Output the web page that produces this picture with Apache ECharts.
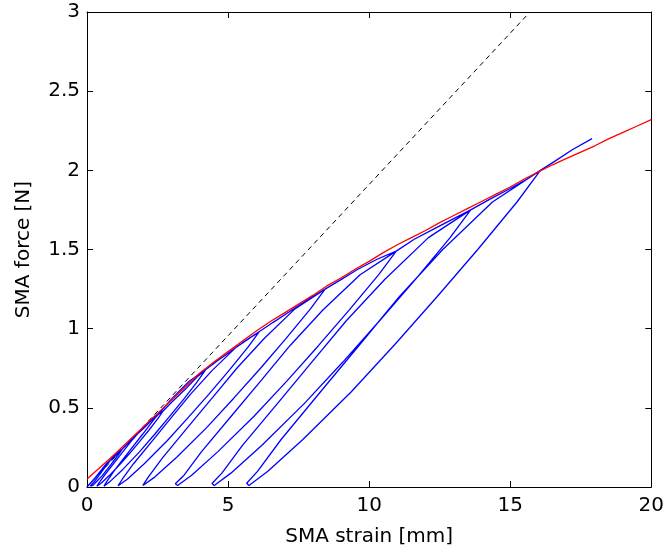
<!DOCTYPE html>
<html>
<head>
<meta charset="utf-8">
<script src="https://cdn.jsdelivr.net/npm/echarts@6/dist/echarts.min.js"></script>
<style>
  html, body { margin: 0; padding: 0; background: #fff; }
  #sma_chart { width: 667px; height: 556px; }
</style>
</head>
<body>
<div id="sma_chart"></div>
<script>
// axis ticks
var x_ticks = [0, 5, 10, 15, 20];
var y_ticks = [0, 0.5, 1, 1.5, 2, 2.5, 3];

// reference stiffness line (dashed)
var ref_line = [[0, 0], [15.7, 3]];

// envelope (red)
var envelope = [
    [0, 0.05], [0.5, 0.13], [1, 0.21], [1.5, 0.295], [2, 0.38], [2.5, 0.465],
    [3, 0.55], [3.5, 0.635], [4, 0.72], [4.5, 0.79], [5, 0.855], [5.5, 0.92],
    [6, 0.985], [6.5, 1.045], [7, 1.1], [7.5, 1.155], [8, 1.21], [8.5, 1.27],
    [9, 1.32], [9.5, 1.375], [10, 1.425], [10.5, 1.48], [11, 1.53], [11.5, 1.575],
    [12, 1.62], [12.5, 1.67], [13, 1.715], [13.5, 1.76], [14, 1.805], [14.5, 1.85],
    [15, 1.895], [15.5, 1.945], [16, 1.99], [16.5, 2.035], [17, 2.075], [17.5, 2.115],
    [18, 2.155], [18.5, 2.2], [19, 2.24], [19.5, 2.28], [20, 2.32]
];

// blue measured path: loading along envelope up to each peak
var blue_envelope = [
    [[0, 0], [0.3, 0.06], [0.7, 0.15], [1.0, 0.195], [1.25, 0.24]],
    [[1.25, 0.24], [1.6, 0.305], [2.0, 0.37], [2.4, 0.44], [2.7, 0.48]],
    [[2.7, 0.48], [3.0, 0.535], [3.5, 0.62], [3.9, 0.695], [4.2, 0.74]],
    [[4.2, 0.74], [4.6, 0.795], [5.0, 0.845], [5.5, 0.91], [6.1, 0.98]],
    [[6.1, 0.98], [6.6, 1.04], [7.2, 1.11], [7.8, 1.18], [8.44, 1.25]],
    [[8.44, 1.25], [9.0, 1.31], [9.6, 1.375], [10.3, 1.44], [10.96, 1.49]],
    [[10.96, 1.49], [11.6, 1.565], [12.3, 1.63], [13.0, 1.695], [13.6, 1.75]],
    [[13.6, 1.75], [14.3, 1.82], [15.0, 1.885], [15.6, 1.945], [16.07, 2.0]]
];

// unloading from each peak to zero force
var blue_unload = [
    [[1.25, 0.24], [1.16, 0.216], [1.01, 0.18], [0.86, 0.144], [0.7, 0.108], [0.54, 0.072], [0.35, 0.036], [0.22, 0.012], [0.15, 0.005]],
    [[2.7, 0.48], [2.51, 0.432], [2.2, 0.36], [1.87, 0.288], [1.53, 0.216], [1.17, 0.144], [0.79, 0.072], [0.5, 0.024], [0.35, 0.005]],
    [[4.2, 0.74], [3.91, 0.666], [3.43, 0.555], [2.92, 0.444], [2.4, 0.333], [1.86, 0.222], [1.27, 0.111], [0.83, 0.037], [0.6, 0.005]],
    [[6.1, 0.98], [5.7, 0.882], [5.03, 0.735], [4.33, 0.588], [3.6, 0.441], [2.85, 0.294], [2.03, 0.147], [1.43, 0.049], [1.1, 0.008]],
    [[8.44, 1.25], [7.92, 1.125], [7.05, 0.9375], [6.15, 0.75], [5.21, 0.5625], [4.24, 0.375], [3.18, 0.1875], [2.4, 0.0625], [1.98, 0.01]],
    [[10.96, 1.49], [10.34, 1.341], [9.29, 1.1175], [8.21, 0.894], [7.09, 0.6705], [5.92, 0.447], [4.64, 0.2235], [3.71, 0.0745], [3.21, 0.01]],
    [[13.6, 1.75], [12.87, 1.575], [11.65, 1.3125], [10.37, 1.05], [9.06, 0.7875], [7.69, 0.525], [6.19, 0.2625], [5.1, 0.0875], [4.51, 0.01]],
    [[16.07, 2.0], [15.24, 1.8], [13.85, 1.5], [12.4, 1.2], [10.91, 0.9], [9.36, 0.6], [7.65, 0.3], [6.41, 0.1], [5.74, 0.01]]
];

// reloading from zero force back to the previous peak
var blue_reload = [
    [[0.12, 0.006], [0.18, 0.012], [0.27, 0.036], [0.42, 0.072], [0.57, 0.108], [0.72, 0.144], [0.88, 0.18], [1.07, 0.216], [1.25, 0.24]],
    [[0.31, 0.008], [0.42, 0.024], [0.61, 0.072], [0.93, 0.144], [1.24, 0.216], [1.56, 0.288], [1.91, 0.36], [2.31, 0.432], [2.7, 0.48]],
    [[0.55, 0.01], [0.71, 0.037], [1.0, 0.111], [1.48, 0.222], [1.97, 0.333], [2.45, 0.444], [2.99, 0.555], [3.61, 0.666], [4.2, 0.74]],
    [[1.04, 0.014], [1.25, 0.049], [1.65, 0.147], [2.33, 0.294], [3.0, 0.441], [3.68, 0.588], [4.43, 0.735], [5.28, 0.882], [6.1, 0.98]],
    [[1.91, 0.018], [2.17, 0.0625], [2.69, 0.1875], [3.56, 0.375], [4.44, 0.5625], [5.31, 0.75], [6.28, 0.9375], [7.37, 1.125], [8.44, 1.25]],
    [[3.13, 0.02], [3.44, 0.0745], [4.06, 0.2235], [5.11, 0.447], [6.16, 0.6705], [7.2, 0.894], [8.36, 1.1175], [9.68, 1.341], [10.96, 1.49]],
    [[4.43, 0.022], [4.78, 0.0875], [5.51, 0.2625], [6.74, 0.525], [7.96, 0.7875], [9.19, 1.05], [10.56, 1.3125], [12.1, 1.575], [13.6, 1.75]],
    [[5.66, 0.024], [6.05, 0.1], [6.88, 0.3], [8.27, 0.6], [9.67, 0.9], [11.06, 1.2], [12.61, 1.5], [14.37, 1.8], [16.07, 2.0], [16.6, 2.06], [17.2, 2.13], [17.9, 2.2]]
];

var blue_path = [];
for (var k = 0; k < blue_envelope.length; k++) {
    blue_path = blue_path.concat(blue_envelope[k], blue_unload[k], blue_reload[k]);
}

var sma_dom = document.getElementById("sma_chart");
var sma_chart = echarts.init(sma_dom, null, {renderer: 'canvas'});

var font = '"DejaVu Sans", "Liberation Sans", Arial, sans-serif';
var axis_line = {show: true, onZero: false, lineStyle: {color: '#000', width: 1}};
var tick_in = {show: true, inside: true, length: 6, lineStyle: {color: '#000'}};

sma_chart.setOption({
    animation: false,
    backgroundColor: '#fff',
    grid: {left: 87, right: 12, top: 12, bottom: 69, containLabel: false},
    xAxis: [
        {
            type: 'value', min: x_ticks[0], max: x_ticks[x_ticks.length - 1], interval: 5,
            name: 'SMA strain [mm]', nameLocation: 'middle', nameGap: 40,
            nameTextStyle: {color: '#000', fontSize: 20, fontFamily: font},
            axisLine: axis_line, axisTick: tick_in,
            axisLabel: {color: '#000', fontSize: 20, fontFamily: font, margin: 9},
            splitLine: {show: false}
        },
        {
            type: 'value', position: 'top', min: 0, max: 20, interval: 5,
            axisLine: axis_line, axisTick: tick_in, axisLabel: {show: false}, splitLine: {show: false}
        }
    ],
    yAxis: [
        {
            type: 'value', min: y_ticks[0], max: y_ticks[y_ticks.length - 1], interval: 0.5,
            name: 'SMA force [N]', nameLocation: 'middle', nameGap: 53,
            nameTextStyle: {color: '#000', fontSize: 20, fontFamily: font},
            axisLine: axis_line, axisTick: tick_in,
            axisLabel: {color: '#000', fontSize: 20, fontFamily: font, margin: 7},
            splitLine: {show: false}
        },
        {
            type: 'value', position: 'right', min: 0, max: 3, interval: 0.5,
            axisLine: axis_line, axisTick: tick_in, axisLabel: {show: false}, splitLine: {show: false}
        }
    ],
    series: [
        {
            name: 'reference', type: 'line', data: ref_line, showSymbol: false,
            lineStyle: {color: '#000', width: 1, type: [5, 4]}, z: 2
        },
        {
            name: 'measured', type: 'line', data: blue_path, showSymbol: false,
            lineStyle: {color: '#0000ff', width: 1.3}, z: 3
        },
        {
            name: 'envelope', type: 'line', data: envelope, showSymbol: false,
            lineStyle: {color: '#ff0000', width: 1.3}, z: 4
        }
    ]
});
</script>
</body>
</html>
